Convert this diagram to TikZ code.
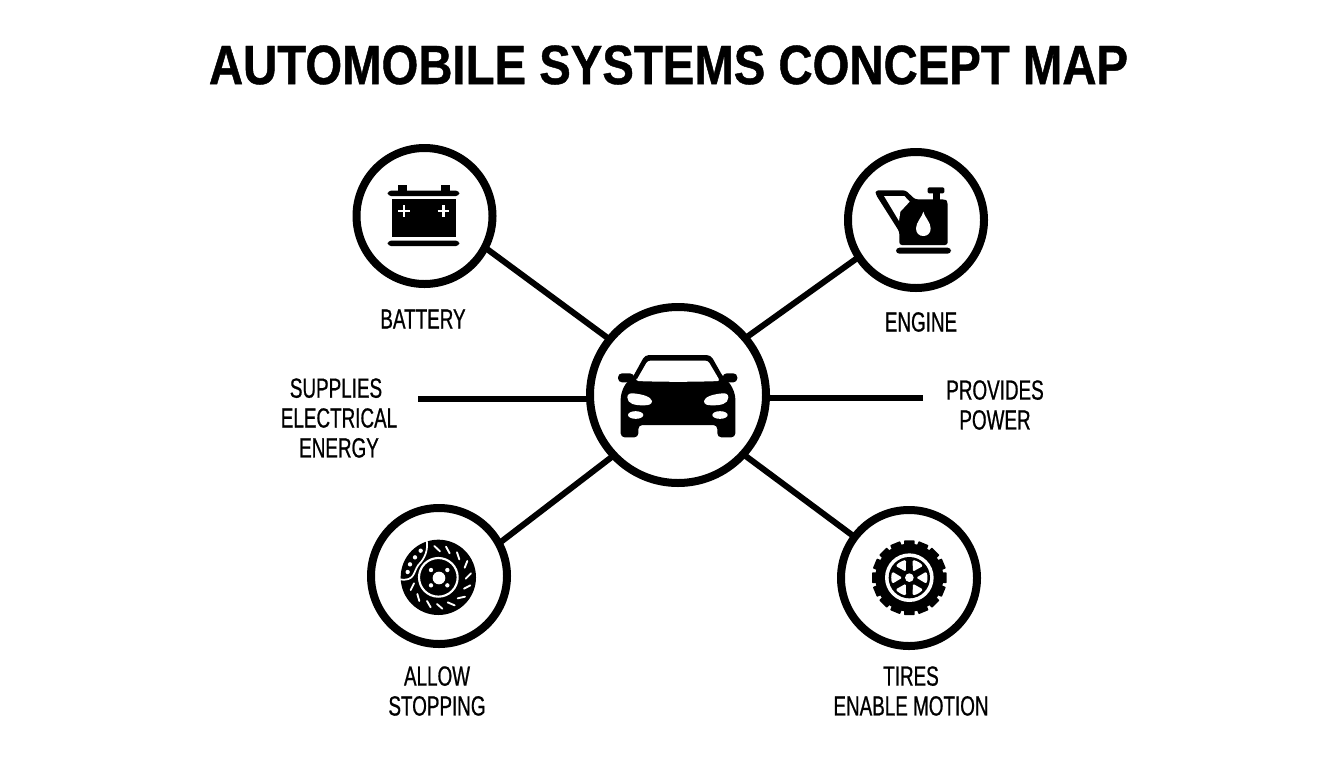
\documentclass[tikz,border=0pt]{standalone}
\usepackage{fontspec}
\setmainfont{Liberation Sans}
\newfontfamily\titlefont[FakeStretch=0.855,FakeBold=0.8]{Liberation Sans}
\newfontfamily\labfont[FakeStretch=0.68,FakeBold=0.7]{Liberation Sans}
\tikzset{
  ring/.style={circle,draw=black,fill=white,line width=6pt,inner sep=0pt,outer sep=3pt},
  link/.style={draw=black,line width=4.5pt,shorten <=-3pt,shorten >=-3pt},
  lab/.style={align=center,inner sep=0pt,font=\labfont\fontsize{20.8pt}{22.4pt}\selectfont},
  icon/.style={x=0.25pt,y=-0.25pt},
}
\begin{document}
\begin{tikzpicture}[x=0.75pt,y=-0.75pt]
\useasboundingbox (0,0) rectangle (1344,768);
\fill[white] (0,0) rectangle (1344,768);
\node[inner sep=0pt,font=\titlefont\bfseries\fontsize{41.5pt}{44pt}\selectfont] (title) at (668.5,65) {AUTOMOBILE SYSTEMS CONCEPT MAP};

\node[ring,minimum size=132pt] (car) at (678,395) {};
\node[ring,minimum size=102pt] (bat) at (424.5,216) {};
\node[ring,minimum size=102pt] (eng) at (916,220) {};
\node[ring,minimum size=102pt] (brk) at (439,576) {};
\node[ring,minimum size=102pt] (tir) at (909,578) {};
\coordinate (lend) at (418,399);
\coordinate (rend) at (923,398);

\draw[link] (bat.-28) -- (car.141);
\draw[link] (eng.-147) -- (car.40);
\draw[link] (brk.29) -- (car.-137);
\draw[link] (tir.143) -- (car.-42);
\draw[link,shorten <=0pt] (lend) -- (car.west |- lend);
\draw[link,shorten <=0pt] (rend) -- (car.east |- rend);

% battery
\begin{scope}[shift={(340,135)},icon]
\fill[rounded corners=2.5pt] (143,167) rectangle (358,183);
\fill (175,150) rectangle (200,170);
\fill (303,150) rectangle (330,170);
\fill (155,193) rectangle (349,307);
\fill[rounded corners=2.5pt] (143,317) rectangle (358,333);
\foreach \cx in {192,310}{
  \draw[white,line width=2.2pt] (\cx-17,228) -- (\cx+17,228) (\cx,211) -- (\cx,245);
}
\end{scope}

% engine / oil can
\begin{scope}[shift={(835,135)},icon]
\fill[rounded corners=2pt] (122,178) -- (122,166) -- (212,166) -- (240,193) -- (330,193) -- (338,200) -- (338,330) -- (193,330) -- (193,290) -- cycle;
\fill[white] (147,183) -- (208,183) -- (224,200) -- (196,230) -- (192,258) -- cycle;
\fill (293,170) rectangle (315,196);
\fill[rounded corners=1pt] (278,157) rectangle (328,175);
\fill[rounded corners=2.5pt] (183,338) rectangle (348,356);
\fill[white] (265,230) .. controls (262,245) and (243,262) .. (243,280) .. controls (243,295) and (253,303) .. (265,303) .. controls (277,303) and (287,295) .. (287,280) .. controls (287,262) and (268,245) .. (265,230) -- cycle;
\end{scope}

% car
\begin{scope}[shift={(580,300)},icon]
\fill[rounded corners=3pt] (122,412) -- (122,285) -- (135,252) -- (158,232) -- (195,165) -- (392,165) -- (430,232) -- (452,252) -- (466,285) -- (466,412) -- (412,412) -- (412,375) -- (175,375) -- (175,412) -- cycle;
\fill[rounded corners=3pt] (114,220) rectangle (162,247);
\fill[rounded corners=3pt] (428,220) rectangle (472,247);
\fill[white,rounded corners=2pt] (168,243) -- (203,182) -- (384,182) -- (420,243) .. controls (340,246) and (250,246) .. cycle;
\fill[white] (142,292) .. controls (142,282) and (150,279) .. (160,280) .. controls (190,283) and (212,290) .. (216,303) .. controls (216,314) and (205,316) .. (190,316) .. controls (165,316) and (142,312) .. (142,292) -- cycle;
\fill[white] (445,292) .. controls (445,282) and (437,279) .. (427,280) .. controls (397,283) and (375,290) .. (372,303) .. controls (372,314) and (382,316) .. (397,316) .. controls (422,316) and (445,312) .. (445,292) -- cycle;
\fill[white] (167,345) ellipse[x radius=23,y radius=11.5];
\fill[white] (420,345) ellipse[x radius=23,y radius=11.5];
\end{scope}

% brake disc
\begin{scope}[shift={(360,500)},icon]
\fill (235,232) circle[radius=113];
\draw[white,line width=1.3pt] (200,120) .. controls (205,150) and (195,175) .. (175,195) .. controls (160,215) and (165,245) .. (120,238);
\draw[white,line width=1.6pt] (235,232) circle[radius=58];
\fill[white] (237,234) circle[radius=19];
\foreach \p in {(213,210),(262,210),(213,256),(262,256),(182,152),(165,172),(150,193),(143,216)}{
  \fill[white] \p circle[radius=6.5];
}
\foreach \xa/\ya/\xb/\yb in {223/138/240/154, 258/140/269/160, 291/157/298/178, 322/183/314/203, 333/220/317/236, 331/256/312/266, 315/290/293/295, 284/316/263/307, 247/326/231/312, 212/322/201/303, 178/303/172/282, 152/270/162/250}{
  \draw[white,line width=1.4pt,line cap=round] (\xa,\ya) -- (\xb,\yb);
}
\end{scope}

% tire
\begin{scope}[shift={(830,500)},icon]
\fill (238,233) circle[radius=102];
\foreach \a in {0,22.5,...,337.5}{
  \fill[rotate around={\a:(238,233)},rounded corners=0.5pt] (222,121) rectangle (254,150);
}
\fill[white] (238,233) circle[radius=73];
\fill (238,233) circle[radius=62];
\fill[white] (238,233) circle[radius=13];
\foreach \a in {0,60,...,300}{
  \fill[white,rotate around={\a:(238,233)},rounded corners=1pt] (259,233) -- (289,215) .. controls (293,227) and (293,239) .. (289,251) -- cycle;
}
\end{scope}

\node[lab] (l1) at (423,319) {BATTERY};
\node[lab] (l2) at (921,322) {ENGINE};
\node[lab] (l3) at (339,418) {SUPPLIES\kern4.5pt\\ELECTRICAL\\ENERGY};
\node[lab] (l4) at (995,405) {PROVIDES\\POWER};
\node[lab] (l5) at (437,691) {ALLOW\\STOPPING};
\node[lab] (l6) at (911,691) {TIRES\\ENABLE MOTION};
\end{tikzpicture}
\end{document}
